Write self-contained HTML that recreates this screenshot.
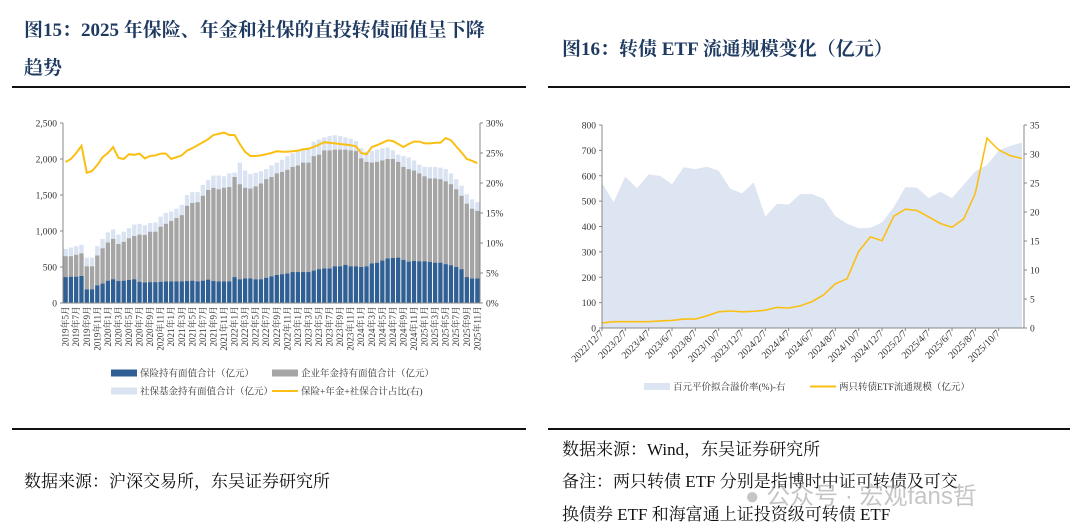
<!DOCTYPE html>
<html><head><meta charset="utf-8">
<style>
html,body{margin:0;padding:0;background:#fff;}
body{width:1080px;height:532px;position:relative;overflow:hidden;font-family:"Liberation Serif","Noto Serif CJK SC",serif;}
.t{position:absolute;color:#1f3a60;font-weight:bold;font-size:19px;white-space:nowrap;font-family:"Liberation Serif","Noto Serif CJK SC",serif;}
.f{position:absolute;color:#111;font-size:17px;white-space:nowrap;font-family:"Liberation Serif","Noto Serif CJK SC",serif;}
.hr{position:absolute;height:2px;background:#111;}
svg{position:absolute;left:0;top:0;}
svg text{font-family:"Liberation Serif","Noto Serif CJK SC",serif;fill:#333;}
</style></head><body>
<div class="t" style="left:24px;top:15px;">图15：2025 年保险、年金和社保的直投转债面值呈下降</div>
<div class="t" style="left:24px;top:53px;">趋势</div>
<div class="t" style="left:562px;top:34px;">图16：转债 ETF 流通规模变化（亿元）</div>
<div class="hr" style="left:12px;top:86px;width:514px;"></div>
<div class="hr" style="left:548px;top:86px;width:522px;"></div>
<div class="hr" style="left:12px;top:428px;width:514px;"></div>
<div class="hr" style="left:548px;top:428px;width:522px;"></div>
<div class="f" style="left:24px;top:467px;">数据来源：沪深交易所，东吴证券研究所</div>
<div class="f" style="left:562px;top:435px;">数据来源：Wind，东吴证券研究所</div>
<div class="f" style="left:562px;top:467px;">备注：两只转债 ETF 分别是指博时中证可转债及可交</div>
<div class="f" style="left:562px;top:500px;">换债券 ETF 和海富通上证投资级可转债 ETF</div>
<div style="position:absolute;left:745px;top:476px;font-size:24px;color:rgba(150,150,150,0.55);font-family:'Liberation Sans','Noto Sans CJK SC',sans-serif;white-space:nowrap;">● 公众号 · 宏观fans哲</div>
<svg id="chart" width="1080" height="532"></svg>
<script>
// ---- Left chart data ----
const leftMonths = [];
for (let y = 2019, m = 5; !(y === 2025 && m === 12); ) { leftMonths.push(y + '年' + m + '月'); m++; if (m > 12) { m = 1; y++; } }
const insuranceVals = [360,365,365,375,190,190,245,270,310,330,305,310,320,330,295,285,290,290,295,300,300,300,300,305,310,300,310,325,305,300,300,300,360,330,340,340,330,330,350,370,390,400,410,430,430,430,430,450,470,480,480,510,510,530,510,510,500,510,550,560,590,620,625,630,600,575,585,580,580,570,560,560,540,525,500,470,360,340,340];
const annuityTotalVals = [650,650,670,690,510,510,660,760,840,890,820,850,900,930,950,945,990,990,1060,1100,1140,1180,1220,1350,1390,1400,1490,1570,1600,1580,1600,1610,1750,1650,1600,1590,1620,1660,1720,1750,1800,1820,1850,1890,1910,1950,1950,2040,2060,2120,2120,2130,2130,2130,2120,2110,2010,1960,1950,1960,1980,2000,2000,1960,1890,1860,1840,1800,1760,1730,1730,1720,1690,1650,1580,1490,1380,1310,1280];
const socialTotalVals = [750,770,790,810,630,630,790,890,980,1020,950,990,1040,1090,1100,1080,1110,1120,1200,1250,1270,1310,1360,1500,1540,1540,1640,1710,1770,1770,1760,1800,1810,1950,1840,1790,1810,1830,1860,1910,1950,1990,2040,2080,2110,2150,2160,2240,2270,2300,2320,2330,2320,2300,2280,2250,2150,2100,2110,2130,2150,2160,2120,2060,2040,2020,1980,1920,1890,1890,1890,1880,1860,1800,1720,1630,1510,1440,1400];
const ratioVals = [23.5,24,25,26.2,21.7,22,23,24.3,25,26,24.2,24,24.8,24.7,24.9,24.1,24.5,24.6,24.9,24.9,24,24.3,24.6,25.4,25.8,26.3,26.8,27.3,28,28.2,28.4,28,28,26.5,25.2,24.5,24.5,24.6,24.8,25,25.3,25.2,25.2,25.3,25.4,25.6,25.7,26,26.4,26.8,26.7,26.6,26.5,26.4,26.3,26.1,25,24.8,26,26.3,26.7,27.1,27,26.5,26,26.5,26.9,26.9,26.6,26.6,26.7,26.7,27.5,27.1,26.1,25.1,24,23.7,23.3];
const leftYTicks = [0,500,1000,1500,2000,2500];
const leftYTickLabels = ['0','500','1,000','1,500','2,000','2,500'];
const rightPctTicks = [0,5,10,15,20,25,30];
// ---- Right chart data ----
const etfDates = [];
for (let y = 2022, m = 12; etfDates.length < 37; ) { etfDates.push(y + '/' + m + '/7'); m++; if (m > 12) { m = 1; y++; } }
const etfScaleVals = [20,25,25,25,25,28,30,35,35,48,64,67,64,66,70,81,79,87,104,131,174,194,302,359,344,440,468,463,438,412,397,430,531,748,702,679,668];
const premiumVals = [25.0,21.7,26.1,24.1,26.5,26.2,24.8,27.7,27.4,27.8,27.1,24.0,23.2,25.1,19.2,21.4,21.3,23.1,23.1,22.3,19.3,18.0,17.2,17.3,18.2,20.8,24.3,24.2,22.4,23.5,22.4,24.7,27.0,28.1,30.6,31.4,32.0];
const etfLeftTicks = [0,100,200,300,400,500,600,700,800];
const etfRightTicks = [0,5,10,15,20,25,30,35];

const svg = document.getElementById('chart');
const NS = 'http://www.w3.org/2000/svg';
function mk(tag, attrs, parent) {
  const e = document.createElementNS(NS, tag);
  for (const k in attrs) e.setAttribute(k, attrs[k]);
  (parent || svg).appendChild(e);
  return e;
}
function txt(str, attrs, parent) { const e = mk('text', attrs, parent); e.textContent = str; return e; }

// ===== Left chart =====
const L = {x0: 63, x1: 480, y0: 303, y1: 123};
const lN = leftMonths.length;
const lBand = (L.x1 - L.x0) / lN;
const lx = i => L.x0 + lBand * (i + 0.5);
const ly = v => L.y0 - (v / 2500) * (L.y0 - L.y1);
const lyr = v => L.y0 - (v / 30) * (L.y0 - L.y1);
const gL = mk('g', {});


const bw = lBand * 0.82;
for (let i = 0; i < lN; i++) {
  const s = mk('rect', {x: lx(i) - bw / 2, y: ly(socialTotalVals[i]), width: bw, height: ly(annuityTotalVals[i]) - ly(socialTotalVals[i]), fill: '#dae3f1'}, gL);
  
  
  const a = mk('rect', {x: lx(i) - bw / 2, y: ly(annuityTotalVals[i]), width: bw, height: ly(insuranceVals[i]) - ly(annuityTotalVals[i]), fill: '#a5a5a5'}, gL);
  
  
  const b = mk('rect', {x: lx(i) - bw / 2, y: ly(insuranceVals[i]), width: bw, height: L.y0 - ly(insuranceVals[i]), fill: '#305f94'}, gL);
  
  
}
let pts = ratioVals.map((v, i) => lx(i).toFixed(1) + ',' + lyr(v).toFixed(1)).join(' ');
const rl = mk('polyline', {points: pts, fill: 'none', stroke: '#fbbf14', 'stroke-width': 2}, gL);


mk('line', {x1: L.x0, y1: L.y1, x2: L.x0, y2: L.y0, stroke: '#888', 'stroke-width': 1}, gL);
mk('line', {x1: L.x1, y1: L.y1, x2: L.x1, y2: L.y0, stroke: '#888', 'stroke-width': 1}, gL);
mk('line', {x1: L.x0, y1: L.y0, x2: L.x1, y2: L.y0, stroke: '#888', 'stroke-width': 1}, gL);
leftYTicks.forEach((v, i) => {
  mk('line', {x1: L.x0 - 3, y1: ly(v), x2: L.x0, y2: ly(v), stroke: '#888'}, gL);
  const t = txt(leftYTickLabels[i], {x: L.x0 - 6, y: ly(v) + 3.5, 'font-size': 9.5, 'text-anchor': 'end'}, gL);
  
  
});
rightPctTicks.forEach(v => {
  mk('line', {x1: L.x1, y1: lyr(v), x2: L.x1 + 3, y2: lyr(v), stroke: '#888'}, gL);
  const t = txt(v + '%', {x: L.x1 + 6, y: lyr(v) + 3.5, 'font-size': 9.5}, gL);
  
  
});
for (let i = 0; i < lN; i += 2) {
  const t = txt(leftMonths[i], {x: 0, y: 0, 'font-size': 9, 'text-anchor': 'end', transform: `translate(${lx(i) + 3},${L.y0 + 3}) rotate(-90)`}, gL);
  
  
}
function legRect(x, y, color, label, name) {
  const g = mk('g', {}, gL);
  
  
  mk('rect', {x: x, y: y - 3.5, width: 26, height: 7, fill: color}, g);
  txt(label, {x: x + 29, y: y + 3.5, 'font-size': 9.5}, g);
}
legRect(111, 373, '#305f94', '保险持有面值合计（亿元）', 'legend-insurance');
legRect(272, 373, '#a5a5a5', '企业年金持有面值合计（亿元）', 'legend-annuity');
legRect(111, 391, '#dae3f1', '社保基金持有面值合计（亿元）', 'legend-social-fund');
{
  const g = mk('g', {}, gL);
  
  
  mk('line', {x1: 272, y1: 391, x2: 298, y2: 391, stroke: '#fbbf14', 'stroke-width': 2}, g);
  txt('保险+年金+社保合计占比(右)', {x: 301, y: 394.5, 'font-size': 9.5}, g);
}

// ===== Right chart =====
const R = {x0: 602, x1: 1024, y0: 328, y1: 125};
const rStep = (1022 - 602) / 36;
const rx = i => R.x0 + rStep * i;
const ryL = v => R.y0 - (v / 800) * (R.y0 - R.y1);
const ryR = v => R.y0 - (v / 35) * (R.y0 - R.y1);
const gR = mk('g', {});


let ap = 'M' + rx(0) + ',' + R.y0 + ' ' + premiumVals.map((v, i) => 'L' + rx(i).toFixed(1) + ',' + ryR(v).toFixed(1)).join(' ') + ' L' + rx(premiumVals.length - 1) + ',' + R.y0 + ' Z';
const area = mk('path', {d: ap, fill: '#dce5f1'}, gR);


pts = etfScaleVals.map((v, i) => rx(i).toFixed(1) + ',' + ryL(v).toFixed(1)).join(' ');
const el = mk('polyline', {points: pts, fill: 'none', stroke: '#fbbf14', 'stroke-width': 1.6}, gR);


mk('line', {x1: R.x0, y1: R.y1, x2: R.x0, y2: R.y0, stroke: '#888'}, gR);
mk('line', {x1: R.x1, y1: R.y1, x2: R.x1, y2: R.y0, stroke: '#888'}, gR);
mk('line', {x1: R.x0, y1: R.y0, x2: R.x1, y2: R.y0, stroke: '#888'}, gR);
etfLeftTicks.forEach(v => {
  mk('line', {x1: R.x0 - 3, y1: ryL(v), x2: R.x0, y2: ryL(v), stroke: '#888'}, gR);
  const t = txt(String(v), {x: R.x0 - 6, y: ryL(v) + 3.5, 'font-size': 9.5, 'text-anchor': 'end'}, gR);
  
  
});
etfRightTicks.forEach(v => {
  mk('line', {x1: R.x1, y1: ryR(v), x2: R.x1 + 3, y2: ryR(v), stroke: '#888'}, gR);
  const t = txt(String(v), {x: R.x1 + 6, y: ryR(v) + 3.5, 'font-size': 9.5}, gR);
  
  
});
for (let i = 0; i < etfDates.length; i += 2) {
  if (i > 34) break;
  mk('line', {x1: rx(i), y1: R.y0, x2: rx(i), y2: R.y0 + 3, stroke: '#888'}, gR);
  const t = txt(etfDates[i], {x: 0, y: 0, 'font-size': 10, 'text-anchor': 'end', transform: `translate(${rx(i) + 2},${R.y0 + 6}) rotate(-45)`}, gR);
  
  
}
{
  const g = mk('g', {}, gR);
  
  
  mk('rect', {x: 644, y: 383, width: 26, height: 7, fill: '#dce5f1'}, g);
  txt('百元平价拟合溢价率(%)-右', {x: 673, y: 390, 'font-size': 9.5}, g);
  const g2 = mk('g', {}, gR);
  
  
  mk('line', {x1: 810, y1: 386.5, x2: 836, y2: 386.5, stroke: '#fbbf14', 'stroke-width': 2}, g2);
  txt('两只转债ETF流通规模（亿元）', {x: 839, y: 390, 'font-size': 9.5}, g2);
}
</script>
</body></html>
